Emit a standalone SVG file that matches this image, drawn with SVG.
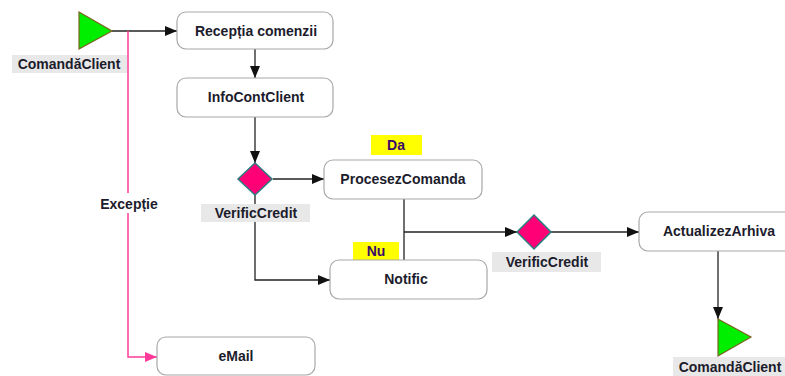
<svg xmlns="http://www.w3.org/2000/svg" width="785" height="376" viewBox="0 0 785 376">
<style>
.box{fill:#fff;stroke:#a8a8a8;stroke-width:1.2}
.t{font-family:"Liberation Sans",Arial,sans-serif;font-size:14px;font-weight:bold;fill:#1c1c2c;text-anchor:middle}
.lbl{fill:#e8e8e8}
.yl{fill:#ffff00}
.yt{fill:#3a0a6a}
.ln{fill:none;stroke:#222;stroke-width:1.3}
.pk{fill:none;stroke:#ff3b9a;stroke-width:1.5}
.dm{fill:#ff0077;stroke:#2a7f7f;stroke-width:1.5}
.tri{fill:#00ee00;stroke:#7a6420;stroke-width:1.2}
</style>
<defs>
<marker id="a" viewBox="0 0 12 10" refX="12" refY="5" markerWidth="12" markerHeight="10" markerUnits="userSpaceOnUse" orient="auto"><path d="M0,0L12,5L0,10z" fill="#111"/></marker>
<marker id="ap" viewBox="0 0 12 10" refX="12" refY="5" markerWidth="12" markerHeight="10" markerUnits="userSpaceOnUse" orient="auto"><path d="M0,0L12,5L0,10z" fill="#ff3b9a"/></marker>
</defs>
<rect width="785" height="376" fill="#fff"/>
<g id="connectors">
<path class="ln" d="M112,31H177" marker-end="url(#a)"/>
<path class="pk" d="M128,31V357H157" marker-end="url(#ap)"/>
<path class="ln" d="M255,49V78" marker-end="url(#a)"/>
<path class="ln" d="M255,117V163" marker-end="url(#a)"/>
<path class="ln" d="M273,179H324" marker-end="url(#a)"/>
<path class="ln" d="M255,194V280H330" marker-end="url(#a)"/>
<path class="ln" d="M404,199V260"/>
<path class="ln" d="M404,232H517" marker-end="url(#a)"/>
<path class="ln" d="M550,232H639" marker-end="url(#a)"/>
<path class="ln" d="M718,251V319" marker-end="url(#a)"/>
<rect x="100" y="193" width="58" height="20" fill="#fff"/>
<text class="t" x="129" y="209">Excepție</text>
</g>
<g id="start">
<path class="tri" d="M79,12L112,31L79,49z"/>
<rect class="lbl" x="12" y="55" width="115" height="18"/>
<text class="t" x="69" y="69">ComandăClient</text>
</g>
<g id="receptia">
<rect class="box" x="177" y="12" width="156" height="37" rx="9"/>
<text class="t" x="256" y="36">Recepția comenzii</text>
</g>
<g id="infocont">
<rect class="box" x="177" y="78" width="156" height="39" rx="9"/>
<text class="t" x="256" y="102">InfoContClient</text>
</g>
<g id="verific1">
<path class="dm" d="M255,163L272,179L255,195L238,179z"/>
<rect class="lbl" x="201" y="204" width="109" height="18"/>
<text class="t" x="256" y="218">VerificCredit</text>
</g>
<g id="da">
<rect class="yl" x="371" y="135" width="51" height="20"/>
<text class="t yt" x="396" y="150">Da</text>
</g>
<g id="procesez">
<rect class="box" x="324" y="160" width="158" height="39" rx="9"/>
<text class="t" x="403" y="184">ProcesezComanda</text>
</g>
<g id="nu">
<rect class="yl" x="353" y="242" width="46" height="19"/>
<text class="t yt" x="376" y="256">Nu</text>
</g>
<g id="notific">
<rect class="box" x="330" y="260" width="157" height="39" rx="9"/>
<text class="t" x="406" y="284">Notific</text>
</g>
<g id="verific2">
<path class="dm" d="M534,215L551,232L534,249L517,232z"/>
<rect class="lbl" x="492" y="252" width="109" height="20"/>
<text class="t" x="547" y="267">VerificCredit</text>
</g>
<g id="actualizez">
<rect class="box" x="639" y="212" width="160" height="39" rx="9"/>
<text class="t" x="719" y="236">ActualizezArhiva</text>
</g>
<g id="end">
<path class="tri" d="M718,319L751,337L718,356z"/>
<rect class="lbl" x="673" y="357" width="115" height="19"/>
<text class="t" x="730" y="372">ComandăClient</text>
</g>
<g id="email">
<rect class="box" x="157" y="337" width="158" height="38" rx="9"/>
<text class="t" x="236" y="361">eMail</text>
</g>
</svg>
